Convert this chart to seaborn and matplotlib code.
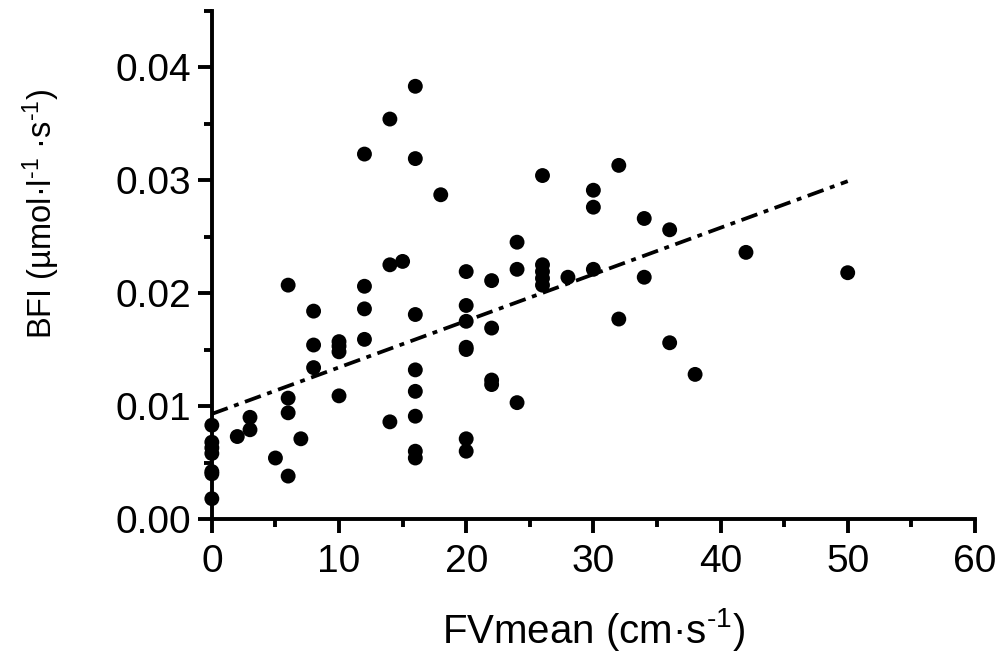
import numpy as np
import pandas as pd
import seaborn as sns
import matplotlib
matplotlib.use('Agg')
from matplotlib import pyplot as plt
from matplotlib import font_manager
from matplotlib.ticker import MultipleLocator, FormatStrFormatter

# ==== data ====
fv_mean = [0, 0, 0, 0, 0, 0, 0,
           2, 3, 3, 5,
           6, 6, 6, 6, 7,
           8, 8, 8,
           10, 10, 10, 10,
           12, 12, 12, 12,
           14, 14, 14, 15,
           16, 16, 16, 16, 16, 16, 16, 16,
           18,
           20, 20, 20, 20, 20, 20, 20,
           22, 22, 22, 22,
           24, 24, 24,
           26, 26, 26, 26, 26,
           28, 30, 30, 30, 32, 32, 34, 34, 36, 36, 38, 42, 50]
bfi = [0.0083, 0.0068, 0.0063, 0.0058, 0.0042, 0.0040, 0.0018,
       0.0073, 0.0090, 0.0079, 0.0054,
       0.0207, 0.0107, 0.0094, 0.0038, 0.0071,
       0.0184, 0.0154, 0.0134,
       0.0157, 0.0153, 0.0148, 0.0109,
       0.0323, 0.0206, 0.0186, 0.0159,
       0.0354, 0.0225, 0.0086, 0.0228,
       0.0383, 0.0319, 0.0181, 0.0132, 0.0113, 0.0091, 0.0060, 0.0054,
       0.0287,
       0.0219, 0.0189, 0.0175, 0.0152, 0.0150, 0.0071, 0.0060,
       0.0211, 0.0169, 0.0123, 0.0119,
       0.0245, 0.0221, 0.0103,
       0.0304, 0.0225, 0.0219, 0.0213, 0.0207,
       0.0214, 0.0291, 0.0276, 0.0221, 0.0313, 0.0177, 0.0266, 0.0214,
       0.0256, 0.0156, 0.0128, 0.0236, 0.0218]

# regression line as drawn
fit_x = [0, 50]
fit_y = [0.0093, 0.0299]

df = pd.DataFrame({'FVmean': fv_mean, 'BFI': bfi})
fit_df = pd.DataFrame({'x': fit_x, 'y': fit_y})

sns.set_style('ticks', {'axes.edgecolor': 'black', 'text.color': 'black',
                        'xtick.color': 'black', 'ytick.color': 'black',
                        'axes.labelcolor': 'black'})
names = {f.name for f in font_manager.fontManager.ttflist}
fam = 'Liberation Sans' if 'Liberation Sans' in names else 'DejaVu Sans'
plt.rcParams['font.family'] = [fam, 'DejaVu Sans']
plt.rcParams['mathtext.fontset'] = 'custom'
plt.rcParams['mathtext.rm'] = fam
plt.rcParams['mathtext.it'] = fam

fig = plt.figure(figsize=(10.04, 6.62), dpi=100)
ax = fig.add_axes([0.211, 0.216, 0.760, 0.768])

sns.scatterplot(data=df, x='FVmean', y='BFI', color='black', s=115,
                edgecolor='none', ax=ax, clip_on=False, zorder=3)
sns.lineplot(data=fit_df, x='x', y='y', color='black', lw=2.7, ax=ax,
             linestyle=(0, (4.5, 1.8, 1.3, 1.8)))

ax.set_xlim(0, 60)
ax.set_ylim(0, 0.045)
ax.xaxis.set_major_locator(MultipleLocator(10))
ax.xaxis.set_minor_locator(MultipleLocator(5))
ax.yaxis.set_major_locator(MultipleLocator(0.01))
ax.yaxis.set_minor_locator(MultipleLocator(0.005))
ax.yaxis.set_major_formatter(FormatStrFormatter('%.2f'))

for s in ['top', 'right']:
    ax.spines[s].set_visible(False)
for s in ['left', 'bottom']:
    ax.spines[s].set_linewidth(2.8)
ax.tick_params(which='major', length=10, width=2.8, labelsize=28)
ax.tick_params(axis='y', pad=5)
ax.tick_params(axis='x', pad=8)
ax.tick_params(which='minor', length=6, width=2.8)

ax.set_xlabel(r'FVmean (cm·s$^{\text{-}1}$)', fontsize=29, va='top')
ax.xaxis.set_label_coords(0.5, -0.172)
ax.set_ylabel(r'BFI (µmol·l$^{\text{-}1}$ ·s$^{\text{-}1}$)', fontsize=23.5)
ax.yaxis.set_label_coords(-0.197, 0.60)

plt.savefig('out.png', dpi=100)
